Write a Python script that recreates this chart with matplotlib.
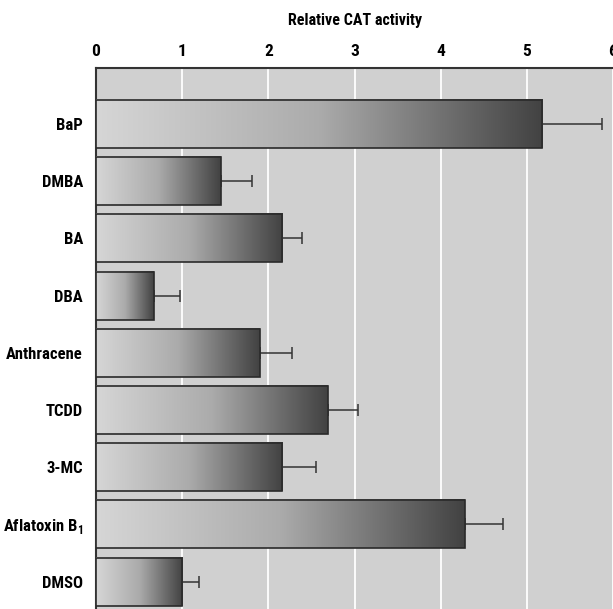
import numpy as np
import matplotlib
matplotlib.use('Agg')
import matplotlib.pyplot as plt
from matplotlib.colors import LinearSegmentedColormap

compounds = ['BaP', 'DMBA', 'BA', 'DBA', 'Anthracene', 'TCDD', '3-MC',
             'Aflatoxin B$_\\mathbf{1}$', 'DMSO']
activity = [5.18, 1.45, 2.16, 0.67, 1.90, 2.69, 2.16, 4.28, 1.00]
error = [0.69, 0.36, 0.23, 0.30, 0.37, 0.35, 0.39, 0.44, 0.19]
xticks = [0, 1, 2, 3, 4, 5, 6]

plt.rcParams['font.family'] = ['Roboto Condensed', 'DejaVu Sans']
plt.rcParams['font.weight'] = 'bold'
plt.rcParams['mathtext.fontset'] = 'custom'
plt.rcParams['mathtext.bf'] = 'Roboto Condensed:bold'
plt.rcParams['mathtext.rm'] = 'Roboto Condensed:bold'

fig = plt.figure(figsize=(6.13, 6.09), dpi=100)
ax = fig.add_axes([96 / 613, 0.0, 1 - 96 / 613, 1 - 67.5 / 609])
ax.set_facecolor('#d0d0d0')

cmap = LinearSegmentedColormap.from_list('bar', ['#d6d6d6', '#ababab', '#424242'])
grad = np.linspace(0, 1, 256).reshape(1, -1)

ypos = np.arange(len(compounds))
h = 0.84
for y, v in zip(ypos, activity):
    ax.imshow(grad, extent=(0, v, y + h / 2, y - h / 2), cmap=cmap,
              aspect='auto', zorder=3, interpolation='bicubic')
ax.barh(ypos, activity, height=h, fill=False, edgecolor='#2a2a2a',
        linewidth=1.2, zorder=4)
ax.errorbar(activity, ypos, xerr=[np.zeros(len(error)), error], fmt='none',
            ecolor='#333333', elinewidth=1.1, capsize=4.3, capthick=1.1,
            zorder=2)

ax.set_xlim(0, 6)
ax.set_ylim(8.48, -0.99)
ax.set_xticks(xticks)
ax.xaxis.tick_top()
ax.xaxis.set_label_position('top')
ax.tick_params(axis='x', length=0, pad=6, labelsize=12.5)
ax.tick_params(axis='y', length=0, pad=9.5, labelsize=12)
ax.set_yticks(ypos)
ax.set_yticklabels(compounds)
ax.set_xlabel('Relative CAT activity', fontsize=11.5, fontweight='bold',
              labelpad=14)
ax.grid(axis='x', color='white', linewidth=1.3, zorder=1)
ax.set_axisbelow(True)
for s in ['top', 'left']:
    ax.spines[s].set_color('#333333')
    ax.spines[s].set_linewidth(1.5)
ax.spines['right'].set_visible(False)
ax.spines['bottom'].set_visible(False)

fig.savefig('out.png', dpi=100)
